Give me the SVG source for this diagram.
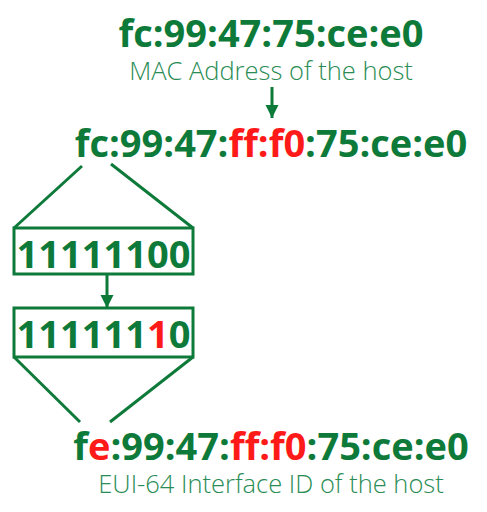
<svg xmlns="http://www.w3.org/2000/svg" width="487" height="512" viewBox="0 0 487 512">
<style>
.big{font-family:"Open Sans","Liberation Sans",sans-serif;font-weight:700;font-size:38px;fill:#0e7a3a;text-anchor:middle}
.sub{font-family:"Open Sans","Liberation Sans",sans-serif;font-weight:300;font-size:25.5px;fill:#2a8c55;text-anchor:middle}
.r{fill:#ff1a1a}
.ln{stroke:#0e7a3a;stroke-width:3;fill:none}
.box{stroke:#0e7a3a;stroke-width:3;fill:#ffffff}
</style>
<defs>
<marker id="ah" viewBox="0 0 10 10" refX="10" refY="5" markerWidth="4.5" markerHeight="4.5" orient="auto" markerUnits="strokeWidth">
<path d="M0,0 L10,5 L0,10 z" fill="#0e7a3a"/>
</marker>
</defs>
<rect width="487" height="512" fill="#ffffff"/>
<g id="mac">
<text class="big" x="271" y="47">fc:99:47:75:ce:e0</text>
<text class="sub" x="271" y="80">MAC Address of the host</text>
</g>
<g id="eui48">
<text class="big" x="271" y="157">fc:99:47:<tspan class="r">ff:f0</tspan>:75:ce:e0</text>
</g>
<g id="byte1">
<rect class="box" x="14" y="228" width="179" height="46"/>
<text class="big" x="103.5" y="268">11111100</text>
</g>
<g id="byte2">
<rect class="box" x="14" y="308" width="179" height="49"/>
<text class="big" x="103.5" y="348">111111<tspan class="r">1</tspan>0</text>
</g>
<g id="eui64">
<text class="big" x="271" y="460">f<tspan class="r">e</tspan>:99:47:<tspan class="r">ff:f0</tspan>:75:ce:e0</text>
<text class="sub" x="271" y="493">EUI-64 Interface ID of the host</text>
</g>
<g id="connectors">
<line class="ln" x1="272" y1="87" x2="272" y2="118" marker-end="url(#ah)"/>
<line class="ln" x1="82" y1="166" x2="14" y2="228"/>
<line class="ln" x1="111" y1="164" x2="193" y2="228"/>
<line class="ln" x1="107" y1="274" x2="107" y2="308" marker-end="url(#ah)"/>
<line class="ln" x1="14" y1="357" x2="80" y2="422"/>
<line class="ln" x1="193" y1="357" x2="110" y2="422"/>
</g>
</svg>
